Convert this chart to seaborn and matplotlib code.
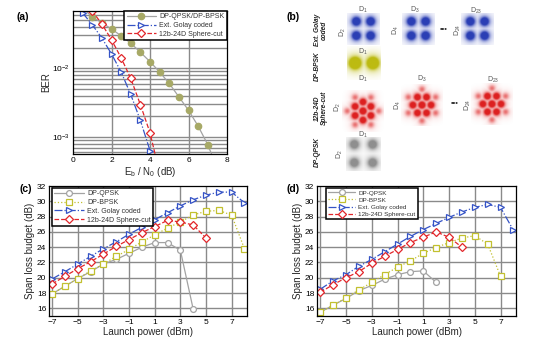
import numpy as np
import pandas as pd
import matplotlib
matplotlib.use("Agg")
import matplotlib.pyplot as plt
from matplotlib.colors import to_rgb
from matplotlib.ticker import NullFormatter
import seaborn as sns

sns.set_theme(style="white")
plt.rcParams["font.family"] = ["Liberation Sans", "DejaVu Sans"]
plt.rcParams["mathtext.fontset"] = "custom"
plt.rcParams["mathtext.rm"] = "Liberation Sans"

# ---------------- (a) BER versus Eb/N0 ----------------
ebn0_qpsk = [0.5, 1.0, 1.5, 2.0, 2.5, 3.0, 3.5, 4.0, 4.5, 5.0, 5.5, 6.0, 6.5, 7.0, 7.5]
ber_qpsk = [0.075, 0.0557, 0.046, 0.0372, 0.0297, 0.0232, 0.0171, 0.0125, 0.00884,
            0.00603, 0.00385, 0.00246, 0.00145, 0.00078, 0.00035]
ebn0_golay = [0.5, 1.0, 1.5, 2.0, 2.5, 3.0, 3.5, 4.0, 4.5]
ber_golay = [0.0638, 0.043, 0.0275, 0.0162, 0.00884, 0.00417, 0.00175, 0.00064, 0.0002]
ebn0_sc = [1.0, 1.5, 2.0, 2.5, 3.0, 3.5, 4.0, 4.5]
ber_sc = [0.068, 0.044, 0.026, 0.0142, 0.00714, 0.00297, 0.00116, 0.0003]
ebn0_ticks = [0, 2, 4, 6, 8]

# ---------------- (c) / (d) span loss budget ----------------
power_qpsk_c = [-7, -6, -5, -4, -3, -2, -1, 0, 1, 2, 3, 4]
budget_qpsk_c = [17.9, 18.9, 19.9, 20.8, 21.8, 22.4, 23.2, 24.0, 24.6, 24.6, 23.6, 15.9]
power_bpsk_c = [-7, -6, -5, -4, -3, -2, -1, 0, 1, 2, 3, 4, 5, 6, 7, 8]
budget_bpsk_c = [17.9, 18.9, 19.9, 20.9, 21.8, 22.8, 23.7, 24.7, 25.6, 26.5, 27.3,
                 28.2, 28.7, 28.8, 28.2, 23.8]
power_golay_c = [-7, -6, -5, -4, -3, -2, -1, 0, 1, 2, 3, 4, 5, 6, 7, 8]
budget_golay_c = [19.85, 20.8, 21.8, 22.8, 23.8, 24.7, 25.7, 26.6, 27.6, 28.5, 29.4,
                  30.2, 30.8, 31.2, 31.2, 29.8]
power_sc_c = [-7, -6, -5, -4, -3, -2, -1, 0, 1, 2, 3, 4, 5]
budget_sc_c = [19.2, 20.2, 21.2, 22.1, 23.1, 24.1, 25.0, 25.9, 26.7, 27.5, 27.3, 26.9, 25.2]

power_qpsk_d = [-7, -6, -5, -4, -3, -2, -1, 0, 1, 2]
budget_qpsk_d = [15.5, 16.4, 17.3, 18.3, 19.0, 19.8, 20.4, 20.8, 20.9, 19.4]
power_bpsk_d = [-7, -6, -5, -4, -3, -2, -1, 0, 1, 2, 3, 4, 5, 6, 7]
budget_bpsk_d = [15.5, 16.4, 17.4, 18.4, 19.4, 20.4, 21.4, 22.2, 23.2, 23.95, 24.6,
                 25.2, 25.5, 24.4, 20.2]
power_golay_d = [-7, -6, -5, -4, -3, -2, -1, 0, 1, 2, 3, 4, 5, 6, 7, 8]
budget_golay_d = [18.5, 19.6, 20.4, 21.5, 22.4, 23.4, 24.4, 25.4, 26.3, 27.1, 27.9,
                  28.6, 29.2, 29.6, 29.2, 26.2]
power_sc_d = [-7, -6, -5, -4, -3, -2, -1, 0, 1, 2, 3, 4]
budget_sc_d = [18.1, 19.1, 20.0, 20.8, 21.9, 22.8, 23.7, 24.6, 25.3, 26.0, 25.3, 24.0]

power_ticks = [-7, -5, -3, -1, 1, 3, 5, 7]
budget_ticks = [16, 18, 20, 22, 24, 26, 28, 30, 32]

# ---------------- (b) constellations ----------------
qpsk_points = [(-1, -1), (-1, 1), (1, -1), (1, 1)]
bpsk_points = [(-1, 0), (1, 0)]
hex_points = [(0, 0),
              (1, 0), (0.5, 0.866), (-0.5, 0.866), (-1, 0), (-0.5, -0.866), (0.5, -0.866),
              (0, 1.732), (1.5, 0.866), (1.5, -0.866), (0, -1.732), (-1.5, -0.866), (-1.5, 0.866)]
hex_weights = [1.0] + [0.9] * 6 + [0.35] * 6

C_GREY = "#a3a3a3"
C_OLIVE = "#c2c030"
C_OLIVE_A = "#a7a966"
C_BLUE = "#3553c6"
C_RED = "#e2262b"
GRID = "#8a8a8a"
GRID_LW = 1.0

W, H = 533, 339
fig = plt.figure(figsize=(W / 100, H / 100), dpi=100)
fig.patch.set_facecolor("white")


def px_rect(x0, y0, x1, y1):
    return [x0 / W, 1 - y1 / H, (x1 - x0) / W, (y1 - y0) / H]


def series(ax, x, y, color, marker, ls, label, face="white", edge=None, ms=4.2):
    sns.lineplot(x=x, y=y, ax=ax, color=color, marker=marker, markersize=ms,
                 markerfacecolor=face, markeredgecolor=edge or color,
                 markeredgewidth=0.9, linestyle=ls, linewidth=0.9, label=label,
                 zorder=3)


def gridlines(ax, xs, ys):
    # reference lines along the tick positions, kept behind the curves
    for v in xs:
        ax.axvline(v, color=GRID, linewidth=GRID_LW, zorder=1)
    for v in ys:
        ax.axhline(v, color=GRID, linewidth=GRID_LW, zorder=1)


def style_axes(ax):
    for s in ax.spines.values():
        s.set_color("black")
        s.set_linewidth(0.9)
        s.set_zorder(4)
    ax.tick_params(direction="in", length=2, width=0.6, labelsize=6,
                   labelcolor="black", color="black", pad=2, left=True, bottom=True)


def legend(ax, fs, loc, anchor=None):
    leg = ax.legend(loc=loc, bbox_to_anchor=anchor, fontsize=fs, frameon=True,
                    fancybox=False, framealpha=1, edgecolor="black", handlelength=4.2,
                    handletextpad=0.5, labelspacing=0.25, borderpad=0.35,
                    borderaxespad=0.0)
    leg.get_frame().set_linewidth(1.1)
    leg.set_zorder(5)
    for t in leg.get_texts():
        t.set_color("#333333")
    return leg


# ---- (a)
axa = fig.add_axes(px_rect(73, 11, 227, 154))
axa.set_yscale("log")
series(axa, ebn0_qpsk, ber_qpsk, C_GREY, "o", "-", "DP-QPSK/DP-BPSK",
       face=C_OLIVE_A, edge=C_OLIVE_A, ms=4.6)
series(axa, ebn0_golay, ber_golay, C_BLUE, ">", "-.", "Ext. Golay coded")
series(axa, ebn0_sc, ber_sc, C_RED, "D", "--", "12b-24D Sphere-cut", ms=3.6)
axa.set_xlim(0, 8)
axa.set_ylim(5.7e-4, 0.068)
axa.set_xticks(ebn0_ticks)
axa.yaxis.set_minor_formatter(NullFormatter())
log_lines = [k * 10.0 ** e for e in (-4, -3, -2) for k in range(1, 10)]
gridlines(axa, ebn0_ticks[1:-1], [v for v in log_lines if 5.7e-4 < v < 0.068])
style_axes(axa)
axa.tick_params(which="minor", length=0)
axa.set_xlabel(r"E$_\mathrm{b}$ / N$_0$ (dB)", fontsize=7, labelpad=1)
axa.set_ylabel("BER", fontsize=7, labelpad=1)
legend(axa, 5, "upper right", (1.0, 1.0))


# ---- (c) and (d)
def budget_panel(rect, qx, qy, bx, by, gx, gy, sx, sy):
    ax = fig.add_axes(rect)
    series(ax, qx, qy, C_GREY, "o", "-", "DP-QPSK")
    series(ax, bx, by, C_OLIVE, "s", ":", "DP-BPSK")
    series(ax, gx, gy, C_BLUE, ">", "-.", "Ext. Golay coded")
    series(ax, sx, sy, C_RED, "D", "--", "12b-24D Sphere-cut", ms=3.6)
    ax.set_xlim(-7.25, 8.2)
    ax.set_ylim(15, 32)
    ax.set_xticks(power_ticks)
    ax.set_yticks(budget_ticks)
    gridlines(ax, power_ticks, budget_ticks[:-1])
    style_axes(ax)
    ax.set_xlabel("Launch power (dBm)", fontsize=7, labelpad=1)
    ax.set_ylabel("Span loss budget (dB)", fontsize=7, labelpad=1)
    return ax


axc = budget_panel(px_rect(49, 186, 247, 316), power_qpsk_c, budget_qpsk_c,
                   power_bpsk_c, budget_bpsk_c, power_golay_c, budget_golay_c,
                   power_sc_c, budget_sc_c)
legend(axc, 5, "upper left", (0.015, 0.985))
axd = budget_panel(px_rect(317, 186, 516, 316), power_qpsk_d, budget_qpsk_d,
                   power_bpsk_d, budget_bpsk_d, power_golay_d, budget_golay_d,
                   power_sc_d, budget_sc_d)
legend(axd, 4.6, "upper left", (0.045, 0.985))


# ---- (b) constellation clouds rendered as density images
def cloud(cx, cy, unit_px, lim, pts, weights, color, sigma, gain=1.6, rot=0.0):
    size = 2 * lim * unit_px
    ax = fig.add_axes(px_rect(cx - size / 2, cy - size / 2, cx + size / 2, cy + size / 2))
    ax.set_axis_off()
    g = np.linspace(-lim, lim, 180)
    X, Y = np.meshgrid(g, g)
    dens = np.zeros_like(X)
    c, s = np.cos(np.radians(rot)), np.sin(np.radians(rot))
    for (px, py), w in zip(pts, weights):
        qx, qy = c * px - s * py, s * px + c * py
        r2 = (X - qx) ** 2 + (Y - qy) ** 2
        blob = w * (np.exp(-r2 / (2 * sigma ** 2)) + 0.25 * np.exp(-r2 / (2 * (2.2 * sigma) ** 2)))
        dens = np.maximum(dens, blob)
    rgba = np.zeros(X.shape + (4,))
    rgba[..., :3] = to_rgb(color)
    rgba[..., 3] = np.clip(dens * gain, 0, 1)
    ax.imshow(rgba, extent=(-lim, lim, -lim, lim), origin="lower",
              interpolation="bilinear")
    ax.set_xlim(-lim, lim)
    ax.set_ylim(-lim, lim)
    return ax


BLUE_C = "#2b3fb5"
for cx in (363, 418, 477):
    cloud(cx, 29, 7.0, 2.3, qpsk_points, [1] * 4, BLUE_C, 0.4, gain=1.5)
cloud(364, 63, 8.9, 1.9, bpsk_points, [1] * 2, "#bdbb12", 0.36, gain=2.6)
cloud(363, 111, 9.0, 2.3, hex_points, hex_weights, "#dd2020", 0.25, gain=1.5, rot=90)
cloud(422, 105, 9.0, 2.3, hex_points, hex_weights, "#dd2020", 0.25, gain=1.5)
cloud(492, 104, 9.0, 2.3, hex_points, hex_weights, "#dd2020", 0.25, gain=1.5)
cloud(363.5, 154, 9.2, 1.9, qpsk_points, [1] * 4, "#8f8f8f", 0.35, gain=1.3)


def ftext(x, y, s, **kw):
    fig.text(x / W, 1 - y / H, s, ha="center", va="center", **kw)


dkw = dict(fontsize=5, color="#555555")
for x, y, s in [(363, 10, r"D$_1$"), (415, 10, r"D$_3$"), (476, 11, r"D$_{23}$"),
                (363, 52, r"D$_1$"), (363, 79, r"D$_1$"), (422, 79, r"D$_3$"),
                (493, 80, r"D$_{23}$"), (363, 135, r"D$_1$")]:
    ftext(x, y, s, **dkw)
for x, y, s in [(343, 32, r"D$_2$"), (396, 30, r"D$_4$"), (458, 30, r"D$_{24}$"),
                (338, 107, r"D$_2$"), (398, 105, r"D$_4$"), (468, 105, r"D$_{24}$"),
                (340, 154, r"D$_2$")]:
    ftext(x, y, s, rotation=90, **dkw)
for x, y in [(444, 30), (455, 104)]:
    ftext(x, y, "\u2022\u2022\u2022", fontsize=5.5, color="#333333")

rkw = dict(fontsize=4.8, fontweight="bold", fontstyle="italic", rotation=90,
           multialignment="center", color="#222222", linespacing=1.0)
ftext(321, 30, "Ext. Golay\ncoded", **rkw)
ftext(317, 66, "DP-BPSK", **rkw)
ftext(321, 108, "12b-24D\nSphere-cut", **rkw)
ftext(317, 152, "DP-QPSK", **rkw)

pkw = dict(fontsize=7.5, fontweight="bold", color="black")
ftext(23, 17, "(a)", **pkw)
ftext(293, 17, "(b)", **pkw)
ftext(26, 189, "(c)", **pkw)
ftext(293, 189, "(d)", **pkw)

fig.savefig("out.png", dpi=100, facecolor="white")
